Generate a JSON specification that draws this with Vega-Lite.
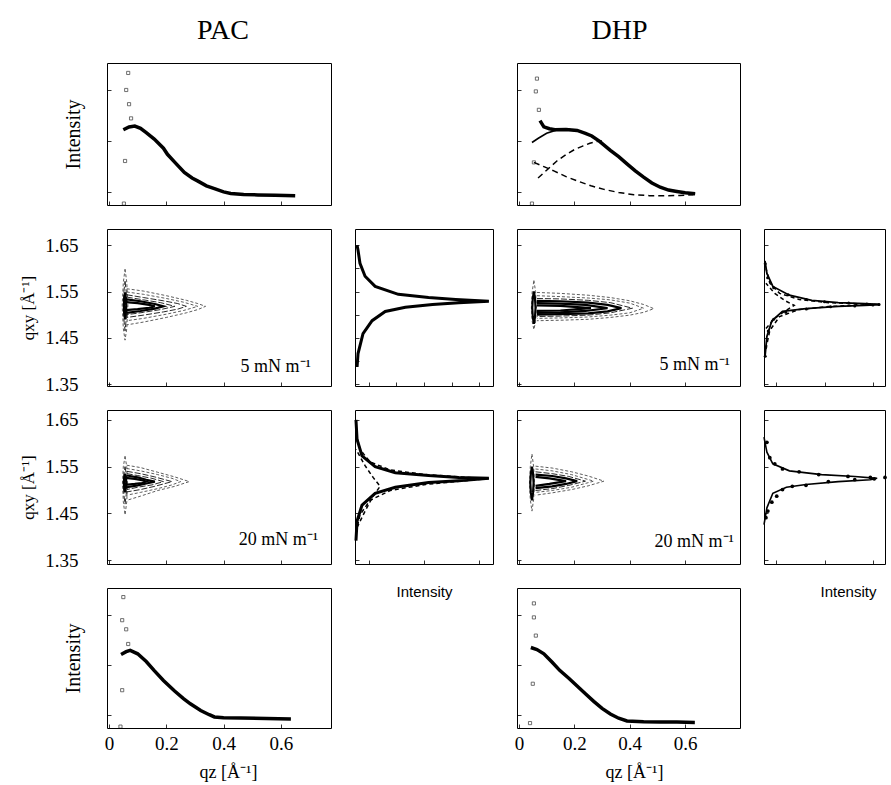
{
"$schema":"https://vega.github.io/schema/vega-lite/v6.json",
"padding":{"left":19,"top":16,"right":0,"bottom":0},
"background":"white",
"columns":4,
"spacing":{"row":24,"column":24},
"align":"each",
"bounds":"flush",
"config":{
 "view":{"stroke":"black","strokeWidth":1},
 "font":"Liberation Serif",
 "axis":{"domain":false,"grid":false,"ticks":true,"tickSize":4,"offset":-4,"tickColor":"black","tickWidth":0.8,"labelColor":"black","labelFont":"Liberation Serif","titleFont":"Liberation Serif","titleColor":"black","titleFontWeight":"normal","labelOverlap":false,"labelFlush":false},
 "title":{"font":"Liberation Serif","fontWeight":"normal","color":"black"}
},
"datasets":{
"pac_top":[{"q":0.05,"I":0.53},{"q":0.07,"I":0.55},{"q":0.09,"I":0.556},{"q":0.11,"I":0.54},{"q":0.13,"I":0.51},{"q":0.158,"I":0.464},{"q":0.19,"I":0.40},{"q":0.204,"I":0.357},{"q":0.23,"I":0.30},{"q":0.263,"I":0.229},{"q":0.29,"I":0.19},{"q":0.309,"I":0.17},{"q":0.34,"I":0.135},{"q":0.368,"I":0.115},{"q":0.40,"I":0.092},{"q":0.425,"I":0.081},{"q":0.47,"I":0.074},{"q":0.52,"I":0.071},{"q":0.58,"I":0.069},{"q":0.65,"I":0.066}],
"pac_top_sq":[{"q":0.067,"I":0.93},{"q":0.06,"I":0.81},{"q":0.07,"I":0.71},{"q":0.077,"I":0.61},{"q":0.056,"I":0.31},{"q":0.052,"I":0.01}],
"dhp_top":[
{"s":"data","q":0.076,"I":0.594},{"s":"data","q":0.09,"I":0.55},{"s":"data","q":0.11,"I":0.537},{"s":"data","q":0.13,"I":0.53},{"s":"data","q":0.17,"I":0.532},{"s":"data","q":0.21,"I":0.525},{"s":"data","q":0.24,"I":0.505},{"s":"data","q":0.263,"I":0.486},{"s":"data","q":0.29,"I":0.45},{"s":"data","q":0.33,"I":0.385},{"s":"data","q":0.36,"I":0.34},{"s":"data","q":0.39,"I":0.29},{"s":"data","q":0.42,"I":0.24},{"s":"data","q":0.45,"I":0.196},{"s":"data","q":0.48,"I":0.155},{"s":"data","q":0.51,"I":0.125},{"s":"data","q":0.54,"I":0.105},{"s":"data","q":0.57,"I":0.095},{"s":"data","q":0.60,"I":0.086},{"s":"data","q":0.636,"I":0.08},
{"s":"fit","q":0.047,"I":0.44},{"s":"fit","q":0.07,"I":0.47},{"s":"fit","q":0.1,"I":0.505},{"s":"fit","q":0.137,"I":0.529},{"s":"fit","q":0.17,"I":0.533},{"s":"fit","q":0.21,"I":0.527},{"s":"fit","q":0.24,"I":0.505},{"s":"fit","q":0.263,"I":0.486},{"s":"fit","q":0.29,"I":0.45},{"s":"fit","q":0.33,"I":0.385},{"s":"fit","q":0.36,"I":0.34},{"s":"fit","q":0.39,"I":0.29},{"s":"fit","q":0.42,"I":0.24},{"s":"fit","q":0.45,"I":0.196},{"s":"fit","q":0.48,"I":0.155},{"s":"fit","q":0.51,"I":0.125},{"s":"fit","q":0.54,"I":0.105},{"s":"fit","q":0.57,"I":0.095},{"s":"fit","q":0.60,"I":0.086},{"s":"fit","q":0.636,"I":0.08},
{"s":"d1","q":0.069,"I":0.19},{"s":"d1","q":0.1,"I":0.245},{"s":"d1","q":0.137,"I":0.31},{"s":"d1","q":0.17,"I":0.355},{"s":"d1","q":0.2,"I":0.39},{"s":"d1","q":0.23,"I":0.415},{"s":"d1","q":0.256,"I":0.435},{"s":"d1","q":0.28,"I":0.447},{"s":"d1","q":0.30,"I":0.45},
{"s":"d2","q":0.054,"I":0.30},{"s":"d2","q":0.09,"I":0.27},{"s":"d2","q":0.126,"I":0.24},{"s":"d2","q":0.17,"I":0.20},{"s":"d2","q":0.21,"I":0.17},{"s":"d2","q":0.26,"I":0.135},{"s":"d2","q":0.307,"I":0.11},{"s":"d2","q":0.36,"I":0.088},{"s":"d2","q":0.415,"I":0.072},{"s":"d2","q":0.47,"I":0.066},{"s":"d2","q":0.52,"I":0.065},{"s":"d2","q":0.58,"I":0.067},{"s":"d2","q":0.63,"I":0.072}],
"dhp_top_sq":[{"q":0.065,"I":0.89},{"q":0.061,"I":0.80},{"q":0.072,"I":0.67},{"q":0.054,"I":0.30},{"q":0.047,"I":0.01}],
"pac_bot":[{"q":0.042,"I":0.525},{"q":0.06,"I":0.545},{"q":0.074,"I":0.554},{"q":0.1,"I":0.53},{"q":0.13,"I":0.475},{"q":0.158,"I":0.41},{"q":0.19,"I":0.34},{"q":0.228,"I":0.266},{"q":0.26,"I":0.21},{"q":0.284,"I":0.173},{"q":0.32,"I":0.125},{"q":0.35,"I":0.095},{"q":0.368,"I":0.079},{"q":0.40,"I":0.074},{"q":0.46,"I":0.072},{"q":0.55,"I":0.068},{"q":0.635,"I":0.065}],
"pac_bot_sq":[{"q":0.05,"I":0.935},{"q":0.046,"I":0.77},{"q":0.06,"I":0.705},{"q":0.067,"I":0.60},{"q":0.046,"I":0.27},{"q":0.04,"I":0.01}],
"dhp_bot":[{"q":0.043,"I":0.575},{"q":0.065,"I":0.56},{"q":0.09,"I":0.53},{"q":0.12,"I":0.47},{"q":0.148,"I":0.41},{"q":0.18,"I":0.355},{"q":0.21,"I":0.30},{"q":0.24,"I":0.245},{"q":0.27,"I":0.19},{"q":0.30,"I":0.14},{"q":0.33,"I":0.10},{"q":0.36,"I":0.07},{"q":0.39,"I":0.05},{"q":0.45,"I":0.045},{"q":0.51,"I":0.043},{"q":0.57,"I":0.042},{"q":0.635,"I":0.04}],
"dhp_bot_sq":[{"q":0.054,"I":0.89},{"q":0.054,"I":0.79},{"q":0.061,"I":0.66},{"q":0.05,"I":0.316},{"q":0.04,"I":0.035}],
"c_pac5":[
{"c":"C1","l":"o","k":1,"q":0.062,"y":1.556},{"c":"C1","l":"o","k":2,"q":0.12,"y":1.551},{"c":"C1","l":"o","k":3,"q":0.2,"y":1.541},{"c":"C1","l":"o","k":4,"q":0.27,"y":1.531},{"c":"C1","l":"o","k":5,"q":0.31,"y":1.524},{"c":"C1","l":"o","k":6,"q":0.337,"y":1.518},{"c":"C1","l":"o","k":7,"q":0.31,"y":1.511},{"c":"C1","l":"o","k":8,"q":0.27,"y":1.504},{"c":"C1","l":"o","k":9,"q":0.2,"y":1.494},{"c":"C1","l":"o","k":10,"q":0.12,"y":1.484},{"c":"C1","l":"o","k":11,"q":0.062,"y":1.478},
{"c":"C2","l":"o","k":1,"q":0.062,"y":1.549},{"c":"C2","l":"o","k":2,"q":0.12,"y":1.544},{"c":"C2","l":"o","k":3,"q":0.2,"y":1.535},{"c":"C2","l":"o","k":4,"q":0.26,"y":1.527},{"c":"C2","l":"o","k":5,"q":0.31,"y":1.518},{"c":"C2","l":"o","k":6,"q":0.26,"y":1.509},{"c":"C2","l":"o","k":7,"q":0.2,"y":1.501},{"c":"C2","l":"o","k":8,"q":0.12,"y":1.492},{"c":"C2","l":"o","k":9,"q":0.062,"y":1.487},
{"c":"C3","l":"m","k":1,"q":0.062,"y":1.543},{"c":"C3","l":"m","k":2,"q":0.12,"y":1.537},{"c":"C3","l":"m","k":3,"q":0.19,"y":1.530},{"c":"C3","l":"m","k":4,"q":0.24,"y":1.524},{"c":"C3","l":"m","k":5,"q":0.27,"y":1.518},{"c":"C3","l":"m","k":6,"q":0.24,"y":1.512},{"c":"C3","l":"m","k":7,"q":0.19,"y":1.506},{"c":"C3","l":"m","k":8,"q":0.12,"y":1.499},{"c":"C3","l":"m","k":9,"q":0.062,"y":1.494},
{"c":"C4","l":"m","k":1,"q":0.062,"y":1.538},{"c":"C4","l":"m","k":2,"q":0.12,"y":1.532},{"c":"C4","l":"m","k":3,"q":0.18,"y":1.526},{"c":"C4","l":"m","k":4,"q":0.23,"y":1.518},{"c":"C4","l":"m","k":5,"q":0.18,"y":1.511},{"c":"C4","l":"m","k":6,"q":0.12,"y":1.505},{"c":"C4","l":"m","k":7,"q":0.062,"y":1.500},
{"c":"C5","l":"c","k":1,"q":0.062,"y":1.533},{"c":"C5","l":"c","k":2,"q":0.11,"y":1.529},{"c":"C5","l":"c","k":3,"q":0.16,"y":1.523},{"c":"C5","l":"c","k":4,"q":0.19,"y":1.518},{"c":"C5","l":"c","k":5,"q":0.16,"y":1.513},{"c":"C5","l":"c","k":6,"q":0.11,"y":1.508},{"c":"C5","l":"c","k":7,"q":0.062,"y":1.504},
{"c":"C6","l":"c","k":1,"q":0.058,"y":1.527},{"c":"C6","l":"c","k":2,"q":0.1,"y":1.525},{"c":"C6","l":"c","k":3,"q":0.14,"y":1.521},{"c":"C6","l":"c","k":4,"q":0.16,"y":1.518},{"c":"C6","l":"c","k":5,"q":0.14,"y":1.515},{"c":"C6","l":"c","k":6,"q":0.1,"y":1.512},{"c":"C6","l":"c","k":7,"q":0.058,"y":1.510},
{"c":"S1","l":"o","k":1,"q":0.056,"y":1.598},{"c":"S1","l":"o","k":2,"q":0.062,"y":1.57},{"c":"S1","l":"o","k":3,"q":0.066,"y":1.52},{"c":"S1","l":"o","k":4,"q":0.062,"y":1.47},{"c":"S1","l":"o","k":5,"q":0.056,"y":1.445},{"c":"S1","l":"o","k":6,"q":0.05,"y":1.47},{"c":"S1","l":"o","k":7,"q":0.046,"y":1.52},{"c":"S1","l":"o","k":8,"q":0.05,"y":1.57},{"c":"S1","l":"o","k":9,"q":0.056,"y":1.598},
{"c":"S2","l":"m","k":1,"q":0.056,"y":1.572},{"c":"S2","l":"m","k":2,"q":0.06,"y":1.55},{"c":"S2","l":"m","k":3,"q":0.062,"y":1.52},{"c":"S2","l":"m","k":4,"q":0.06,"y":1.49},{"c":"S2","l":"m","k":5,"q":0.056,"y":1.465},{"c":"S2","l":"m","k":6,"q":0.052,"y":1.49},{"c":"S2","l":"m","k":7,"q":0.05,"y":1.52},{"c":"S2","l":"m","k":8,"q":0.052,"y":1.55},{"c":"S2","l":"m","k":9,"q":0.056,"y":1.572},
{"c":"S3","l":"c","k":1,"q":0.056,"y":1.548},{"c":"S3","l":"c","k":2,"q":0.059,"y":1.535},{"c":"S3","l":"c","k":3,"q":0.06,"y":1.52},{"c":"S3","l":"c","k":4,"q":0.059,"y":1.505},{"c":"S3","l":"c","k":5,"q":0.056,"y":1.49},{"c":"S3","l":"c","k":6,"q":0.053,"y":1.505},{"c":"S3","l":"c","k":7,"q":0.052,"y":1.52},{"c":"S3","l":"c","k":8,"q":0.053,"y":1.535},{"c":"S3","l":"c","k":9,"q":0.056,"y":1.548}],
"c_pac20":[
{"c":"C1","l":"o","k":1,"q":0.062,"y":1.553},{"c":"C1","l":"o","k":2,"q":0.11,"y":1.548},{"c":"C1","l":"o","k":3,"q":0.17,"y":1.538},{"c":"C1","l":"o","k":4,"q":0.23,"y":1.528},{"c":"C1","l":"o","k":5,"q":0.28,"y":1.518},{"c":"C1","l":"o","k":6,"q":0.23,"y":1.508},{"c":"C1","l":"o","k":7,"q":0.17,"y":1.499},{"c":"C1","l":"o","k":8,"q":0.11,"y":1.487},{"c":"C1","l":"o","k":9,"q":0.062,"y":1.478},
{"c":"C2","l":"o","k":1,"q":0.062,"y":1.546},{"c":"C2","l":"o","k":2,"q":0.11,"y":1.541},{"c":"C2","l":"o","k":3,"q":0.17,"y":1.533},{"c":"C2","l":"o","k":4,"q":0.22,"y":1.525},{"c":"C2","l":"o","k":5,"q":0.25,"y":1.518},{"c":"C2","l":"o","k":6,"q":0.22,"y":1.511},{"c":"C2","l":"o","k":7,"q":0.17,"y":1.503},{"c":"C2","l":"o","k":8,"q":0.11,"y":1.495},{"c":"C2","l":"o","k":9,"q":0.062,"y":1.489},
{"c":"C3","l":"m","k":1,"q":0.062,"y":1.540},{"c":"C3","l":"m","k":2,"q":0.11,"y":1.535},{"c":"C3","l":"m","k":3,"q":0.16,"y":1.528},{"c":"C3","l":"m","k":4,"q":0.22,"y":1.518},{"c":"C3","l":"m","k":5,"q":0.16,"y":1.508},{"c":"C3","l":"m","k":6,"q":0.11,"y":1.501},{"c":"C3","l":"m","k":7,"q":0.062,"y":1.496},
{"c":"C4","l":"m","k":1,"q":0.062,"y":1.535},{"c":"C4","l":"m","k":2,"q":0.1,"y":1.531},{"c":"C4","l":"m","k":3,"q":0.15,"y":1.525},{"c":"C4","l":"m","k":4,"q":0.19,"y":1.518},{"c":"C4","l":"m","k":5,"q":0.15,"y":1.511},{"c":"C4","l":"m","k":6,"q":0.1,"y":1.506},{"c":"C4","l":"m","k":7,"q":0.062,"y":1.501},
{"c":"C5","l":"c","k":1,"q":0.062,"y":1.531},{"c":"C5","l":"c","k":2,"q":0.1,"y":1.527},{"c":"C5","l":"c","k":3,"q":0.13,"y":1.522},{"c":"C5","l":"c","k":4,"q":0.16,"y":1.518},{"c":"C5","l":"c","k":5,"q":0.13,"y":1.514},{"c":"C5","l":"c","k":6,"q":0.1,"y":1.510},{"c":"C5","l":"c","k":7,"q":0.062,"y":1.506},
{"c":"C6","l":"c","k":1,"q":0.058,"y":1.526},{"c":"C6","l":"c","k":2,"q":0.09,"y":1.524},{"c":"C6","l":"c","k":3,"q":0.115,"y":1.521},{"c":"C6","l":"c","k":4,"q":0.13,"y":1.518},{"c":"C6","l":"c","k":5,"q":0.115,"y":1.515},{"c":"C6","l":"c","k":6,"q":0.09,"y":1.513},{"c":"C6","l":"c","k":7,"q":0.058,"y":1.511},
{"c":"S1","l":"o","k":1,"q":0.056,"y":1.572},{"c":"S1","l":"o","k":2,"q":0.062,"y":1.55},{"c":"S1","l":"o","k":3,"q":0.065,"y":1.515},{"c":"S1","l":"o","k":4,"q":0.062,"y":1.475},{"c":"S1","l":"o","k":5,"q":0.056,"y":1.447},{"c":"S1","l":"o","k":6,"q":0.05,"y":1.475},{"c":"S1","l":"o","k":7,"q":0.047,"y":1.515},{"c":"S1","l":"o","k":8,"q":0.05,"y":1.55},{"c":"S1","l":"o","k":9,"q":0.056,"y":1.572},
{"c":"S2","l":"m","k":1,"q":0.056,"y":1.55},{"c":"S2","l":"m","k":2,"q":0.06,"y":1.535},{"c":"S2","l":"m","k":3,"q":0.062,"y":1.515},{"c":"S2","l":"m","k":4,"q":0.06,"y":1.49},{"c":"S2","l":"m","k":5,"q":0.056,"y":1.47},{"c":"S2","l":"m","k":6,"q":0.052,"y":1.49},{"c":"S2","l":"m","k":7,"q":0.05,"y":1.515},{"c":"S2","l":"m","k":8,"q":0.052,"y":1.535},{"c":"S2","l":"m","k":9,"q":0.056,"y":1.55},
{"c":"S3","l":"c","k":1,"q":0.056,"y":1.535},{"c":"S3","l":"c","k":2,"q":0.059,"y":1.527},{"c":"S3","l":"c","k":3,"q":0.06,"y":1.517},{"c":"S3","l":"c","k":4,"q":0.059,"y":1.505},{"c":"S3","l":"c","k":5,"q":0.056,"y":1.495},{"c":"S3","l":"c","k":6,"q":0.053,"y":1.505},{"c":"S3","l":"c","k":7,"q":0.052,"y":1.517},{"c":"S3","l":"c","k":8,"q":0.053,"y":1.527},{"c":"S3","l":"c","k":9,"q":0.056,"y":1.535}],
"c_dhp5":[
{"c":"C1","l":"o","k":1,"q":0.065,"y":1.548},{"c":"C1","l":"o","k":2,"q":0.15,"y":1.546},{"c":"C1","l":"o","k":3,"q":0.25,"y":1.542},{"c":"C1","l":"o","k":4,"q":0.33,"y":1.537},{"c":"C1","l":"o","k":5,"q":0.4,"y":1.530},{"c":"C1","l":"o","k":6,"q":0.45,"y":1.522},{"c":"C1","l":"o","k":7,"q":0.487,"y":1.513},{"c":"C1","l":"o","k":8,"q":0.45,"y":1.505},{"c":"C1","l":"o","k":9,"q":0.4,"y":1.499},{"c":"C1","l":"o","k":10,"q":0.33,"y":1.494},{"c":"C1","l":"o","k":11,"q":0.25,"y":1.490},{"c":"C1","l":"o","k":12,"q":0.15,"y":1.488},{"c":"C1","l":"o","k":13,"q":0.065,"y":1.487},
{"c":"C2","l":"o","k":1,"q":0.065,"y":1.541},{"c":"C2","l":"o","k":2,"q":0.15,"y":1.539},{"c":"C2","l":"o","k":3,"q":0.25,"y":1.536},{"c":"C2","l":"o","k":4,"q":0.33,"y":1.532},{"c":"C2","l":"o","k":5,"q":0.4,"y":1.525},{"c":"C2","l":"o","k":6,"q":0.45,"y":1.514},{"c":"C2","l":"o","k":7,"q":0.4,"y":1.504},{"c":"C2","l":"o","k":8,"q":0.33,"y":1.499},{"c":"C2","l":"o","k":9,"q":0.25,"y":1.495},{"c":"C2","l":"o","k":10,"q":0.15,"y":1.493},{"c":"C2","l":"o","k":11,"q":0.065,"y":1.492},
{"c":"C3","l":"m","k":1,"q":0.065,"y":1.535},{"c":"C3","l":"m","k":2,"q":0.15,"y":1.534},{"c":"C3","l":"m","k":3,"q":0.25,"y":1.531},{"c":"C3","l":"m","k":4,"q":0.33,"y":1.526},{"c":"C3","l":"m","k":5,"q":0.41,"y":1.514},{"c":"C3","l":"m","k":6,"q":0.33,"y":1.504},{"c":"C3","l":"m","k":7,"q":0.25,"y":1.499},{"c":"C3","l":"m","k":8,"q":0.15,"y":1.497},{"c":"C3","l":"m","k":9,"q":0.065,"y":1.496},
{"c":"C4","l":"c","k":1,"q":0.065,"y":1.530},{"c":"C4","l":"c","k":2,"q":0.15,"y":1.529},{"c":"C4","l":"c","k":3,"q":0.25,"y":1.526},{"c":"C4","l":"c","k":4,"q":0.32,"y":1.521},{"c":"C4","l":"c","k":5,"q":0.37,"y":1.514},{"c":"C4","l":"c","k":6,"q":0.32,"y":1.507},{"c":"C4","l":"c","k":7,"q":0.25,"y":1.503},{"c":"C4","l":"c","k":8,"q":0.15,"y":1.501},{"c":"C4","l":"c","k":9,"q":0.065,"y":1.500},
{"c":"C5","l":"c","k":1,"q":0.065,"y":1.525},{"c":"C5","l":"c","k":2,"q":0.15,"y":1.524},{"c":"C5","l":"c","k":3,"q":0.24,"y":1.521},{"c":"C5","l":"c","k":4,"q":0.32,"y":1.514},{"c":"C5","l":"c","k":5,"q":0.24,"y":1.508},{"c":"C5","l":"c","k":6,"q":0.15,"y":1.505},{"c":"C5","l":"c","k":7,"q":0.065,"y":1.504},
{"c":"C6","l":"c","k":1,"q":0.065,"y":1.520},{"c":"C6","l":"c","k":2,"q":0.15,"y":1.519},{"c":"C6","l":"c","k":3,"q":0.26,"y":1.514},{"c":"C6","l":"c","k":4,"q":0.15,"y":1.509},{"c":"C6","l":"c","k":5,"q":0.065,"y":1.508},
{"c":"S1","l":"o","k":1,"q":0.054,"y":1.574},{"c":"S1","l":"o","k":2,"q":0.06,"y":1.55},{"c":"S1","l":"o","k":3,"q":0.063,"y":1.515},{"c":"S1","l":"o","k":4,"q":0.06,"y":1.485},{"c":"S1","l":"o","k":5,"q":0.054,"y":1.468},{"c":"S1","l":"o","k":6,"q":0.048,"y":1.485},{"c":"S1","l":"o","k":7,"q":0.045,"y":1.515},{"c":"S1","l":"o","k":8,"q":0.048,"y":1.55},{"c":"S1","l":"o","k":9,"q":0.054,"y":1.574},
{"c":"S2","l":"c","k":1,"q":0.054,"y":1.55},{"c":"S2","l":"c","k":2,"q":0.058,"y":1.535},{"c":"S2","l":"c","k":3,"q":0.06,"y":1.515},{"c":"S2","l":"c","k":4,"q":0.058,"y":1.495},{"c":"S2","l":"c","k":5,"q":0.054,"y":1.48},{"c":"S2","l":"c","k":6,"q":0.05,"y":1.495},{"c":"S2","l":"c","k":7,"q":0.048,"y":1.515},{"c":"S2","l":"c","k":8,"q":0.05,"y":1.535},{"c":"S2","l":"c","k":9,"q":0.054,"y":1.55}],
"c_dhp20":[
{"c":"C1","l":"o","k":1,"q":0.06,"y":1.551},{"c":"C1","l":"o","k":2,"q":0.12,"y":1.547},{"c":"C1","l":"o","k":3,"q":0.19,"y":1.539},{"c":"C1","l":"o","k":4,"q":0.25,"y":1.530},{"c":"C1","l":"o","k":5,"q":0.307,"y":1.519},{"c":"C1","l":"o","k":6,"q":0.25,"y":1.509},{"c":"C1","l":"o","k":7,"q":0.19,"y":1.501},{"c":"C1","l":"o","k":8,"q":0.12,"y":1.494},{"c":"C1","l":"o","k":9,"q":0.06,"y":1.489},
{"c":"C2","l":"o","k":1,"q":0.06,"y":1.545},{"c":"C2","l":"o","k":2,"q":0.12,"y":1.541},{"c":"C2","l":"o","k":3,"q":0.19,"y":1.533},{"c":"C2","l":"o","k":4,"q":0.27,"y":1.519},{"c":"C2","l":"o","k":5,"q":0.19,"y":1.506},{"c":"C2","l":"o","k":6,"q":0.12,"y":1.499},{"c":"C2","l":"o","k":7,"q":0.06,"y":1.495},
{"c":"C3","l":"m","k":1,"q":0.06,"y":1.539},{"c":"C3","l":"m","k":2,"q":0.12,"y":1.535},{"c":"C3","l":"m","k":3,"q":0.18,"y":1.529},{"c":"C3","l":"m","k":4,"q":0.24,"y":1.519},{"c":"C3","l":"m","k":5,"q":0.18,"y":1.510},{"c":"C3","l":"m","k":6,"q":0.12,"y":1.503},{"c":"C3","l":"m","k":7,"q":0.06,"y":1.499},
{"c":"C4","l":"c","k":1,"q":0.06,"y":1.533},{"c":"C4","l":"c","k":2,"q":0.12,"y":1.530},{"c":"C4","l":"c","k":3,"q":0.17,"y":1.525},{"c":"C4","l":"c","k":4,"q":0.21,"y":1.519},{"c":"C4","l":"c","k":5,"q":0.17,"y":1.513},{"c":"C4","l":"c","k":6,"q":0.12,"y":1.508},{"c":"C4","l":"c","k":7,"q":0.06,"y":1.504},
{"c":"C5","l":"c","k":1,"q":0.06,"y":1.528},{"c":"C5","l":"c","k":2,"q":0.11,"y":1.525},{"c":"C5","l":"c","k":3,"q":0.17,"y":1.519},{"c":"C5","l":"c","k":4,"q":0.11,"y":1.513},{"c":"C5","l":"c","k":5,"q":0.06,"y":1.509},
{"c":"S1","l":"o","k":1,"q":0.047,"y":1.577},{"c":"S1","l":"o","k":2,"q":0.053,"y":1.55},{"c":"S1","l":"o","k":3,"q":0.056,"y":1.515},{"c":"S1","l":"o","k":4,"q":0.053,"y":1.48},{"c":"S1","l":"o","k":5,"q":0.047,"y":1.455},{"c":"S1","l":"o","k":6,"q":0.041,"y":1.48},{"c":"S1","l":"o","k":7,"q":0.038,"y":1.515},{"c":"S1","l":"o","k":8,"q":0.041,"y":1.55},{"c":"S1","l":"o","k":9,"q":0.047,"y":1.577},
{"c":"S2","l":"c","k":1,"q":0.047,"y":1.55},{"c":"S2","l":"c","k":2,"q":0.051,"y":1.535},{"c":"S2","l":"c","k":3,"q":0.053,"y":1.515},{"c":"S2","l":"c","k":4,"q":0.051,"y":1.495},{"c":"S2","l":"c","k":5,"q":0.047,"y":1.478},{"c":"S2","l":"c","k":6,"q":0.043,"y":1.495},{"c":"S2","l":"c","k":7,"q":0.041,"y":1.515},{"c":"S2","l":"c","k":8,"q":0.043,"y":1.535},{"c":"S2","l":"c","k":9,"q":0.047,"y":1.55}],
"s_pac5":[
{"I":0.015,"y":1.650},{"I":0.022,"y":1.639},{"I":0.036,"y":1.611},{"I":0.073,"y":1.583},{"I":0.146,"y":1.561},{"I":0.314,"y":1.544},{"I":0.533,"y":1.537},{"I":0.73,"y":1.533},{"I":0.97,"y":1.529},{"I":0.752,"y":1.526},{"I":0.562,"y":1.522},{"I":0.365,"y":1.516},{"I":0.219,"y":1.507},{"I":0.124,"y":1.487},{"I":0.058,"y":1.459},{"I":0.022,"y":1.416},{"I":0.015,"y":1.387}],
"s_pac20":[
{"s":"fit","I":0.007,"y":1.650},{"s":"fit","I":0.015,"y":1.608},{"s":"fit","I":0.051,"y":1.573},{"s":"fit","I":0.146,"y":1.550},{"s":"fit","I":0.292,"y":1.537},{"s":"fit","I":0.533,"y":1.531},{"s":"fit","I":0.752,"y":1.527},{"s":"fit","I":0.97,"y":1.525},{"s":"fit","I":0.752,"y":1.520},{"s":"fit","I":0.533,"y":1.516},{"s":"fit","I":0.292,"y":1.506},{"s":"fit","I":0.146,"y":1.493},{"s":"fit","I":0.051,"y":1.468},{"s":"fit","I":0.015,"y":1.434},{"s":"fit","I":0.007,"y":1.392},
{"s":"A","I":0.007,"y":1.623},{"s":"A","I":0.036,"y":1.587},{"s":"A","I":0.109,"y":1.560},{"s":"A","I":0.255,"y":1.543},{"s":"A","I":0.511,"y":1.533},{"s":"A","I":0.803,"y":1.527},{"s":"A","I":0.97,"y":1.5245},{"s":"A","I":0.803,"y":1.520},{"s":"A","I":0.511,"y":1.512},{"s":"A","I":0.255,"y":1.499},{"s":"A","I":0.109,"y":1.478},{"s":"A","I":0.036,"y":1.447},{"s":"A","I":0.007,"y":1.409},
{"s":"B","I":0.007,"y":1.587},{"s":"B","I":0.073,"y":1.552},{"s":"B","I":0.131,"y":1.527},{"s":"B","I":0.182,"y":1.508},{"s":"B","I":0.131,"y":1.487},{"s":"B","I":0.073,"y":1.455},{"s":"B","I":0.015,"y":1.420}],
"s_dhp5":[
{"s":"fit","I":0.008,"y":1.616},{"s":"fit","I":0.024,"y":1.589},{"s":"fit","I":0.073,"y":1.561},{"s":"fit","I":0.21,"y":1.542},{"s":"fit","I":0.395,"y":1.531},{"s":"fit","I":0.613,"y":1.526},{"s":"fit","I":0.831,"y":1.524},{"s":"fit","I":0.96,"y":1.522},{"s":"fit","I":0.831,"y":1.520},{"s":"fit","I":0.613,"y":1.518},{"s":"fit","I":0.347,"y":1.513},{"s":"fit","I":0.153,"y":1.507},{"s":"fit","I":0.065,"y":1.487},{"s":"fit","I":0.024,"y":1.453},{"s":"fit","I":0.008,"y":1.409},
{"s":"A","I":0.016,"y":1.600},{"s":"A","I":0.048,"y":1.568},{"s":"A","I":0.129,"y":1.546},{"s":"A","I":0.29,"y":1.533},{"s":"A","I":0.532,"y":1.526},{"s":"A","I":0.774,"y":1.5235},{"s":"A","I":0.96,"y":1.5221},{"s":"A","I":0.774,"y":1.5205},{"s":"A","I":0.532,"y":1.5175},{"s":"A","I":0.29,"y":1.511},{"s":"A","I":0.129,"y":1.496},{"s":"A","I":0.048,"y":1.466},{"s":"A","I":0.016,"y":1.426},
{"s":"B","I":0.016,"y":1.568},{"s":"B","I":0.089,"y":1.546},{"s":"B","I":0.169,"y":1.531},{"s":"B","I":0.25,"y":1.520},{"s":"B","I":0.169,"y":1.507},{"s":"B","I":0.089,"y":1.492},{"s":"B","I":0.016,"y":1.470}],
"p_dhp5":[{"I":0.01,"y":1.61},{"I":0.03,"y":1.58},{"I":0.08,"y":1.558},{"I":0.2,"y":1.543},{"I":0.35,"y":1.533},{"I":0.5,"y":1.528},{"I":0.7,"y":1.525},{"I":0.85,"y":1.523},{"I":0.95,"y":1.522},{"I":0.9,"y":1.521},{"I":0.75,"y":1.519},{"I":0.55,"y":1.517},{"I":0.35,"y":1.512},{"I":0.18,"y":1.505},{"I":0.08,"y":1.49},{"I":0.035,"y":1.465},{"I":0.015,"y":1.43},{"I":0.01,"y":1.41}],
"s_dhp20":[
{"I":0.0,"y":1.613},{"I":0.024,"y":1.581},{"I":0.073,"y":1.556},{"I":0.21,"y":1.541},{"I":0.476,"y":1.533},{"I":0.75,"y":1.529},{"I":0.935,"y":1.525},{"I":0.879,"y":1.522},{"I":0.613,"y":1.518},{"I":0.347,"y":1.512},{"I":0.185,"y":1.506},{"I":0.073,"y":1.493},{"I":0.024,"y":1.462},{"I":0.0,"y":1.426}],
"p_dhp20":[{"I":0.024,"y":1.602},{"I":0.048,"y":1.569},{"I":0.089,"y":1.556},{"I":0.153,"y":1.545},{"I":0.29,"y":1.539},{"I":0.452,"y":1.533},{"I":0.694,"y":1.529},{"I":0.879,"y":1.527},{"I":1.0,"y":1.527},{"I":0.016,"y":1.441},{"I":0.032,"y":1.455},{"I":0.065,"y":1.474},{"I":0.105,"y":1.487},{"I":0.153,"y":1.501},{"I":0.234,"y":1.508},{"I":0.347,"y":1.51},{"I":0.532,"y":1.518},{"I":0.75,"y":1.522},{"I":0.911,"y":1.524}]
},
"concat":[
{"width":224,"height":142,
 "title":{"text":"PAC","fontSize":28,"offset":18,"dx":4},
 "layer":[
  {"data":{"name":"pac_top"},"mark":{"type":"line","color":"black","strokeWidth":3.5},
   "encoding":{"x":{"field":"q","type":"quantitative","scale":{"domain":[-0.007,0.775],"nice":false,"zero":false},"axis":{"values":[0,0.1,0.2,0.3,0.4,0.5,0.6,0.7],"labels":false,"title":null}},
     "y":{"field":"I","type":"quantitative","scale":{"domain":[0,1],"nice":false},"axis":{"values":[0.09,0.27,0.45,0.63,0.81],"labels":false,"title":"Intensity","titleFontSize":20,"titlePadding":23}}}},
  {"data":{"name":"pac_top_sq"},"mark":{"type":"square","filled":false,"color":"black","size":10,"strokeWidth":0.8},
   "encoding":{"x":{"field":"q","type":"quantitative"},"y":{"field":"I","type":"quantitative"}}}
 ]},
{"width":1,"height":1,"view":{"stroke":null},"data":{"values":[]},"mark":"point"},
{"width":223,"height":142,
 "title":{"text":"DHP","fontSize":28,"offset":18,"dx":-9},
 "layer":[
  {"data":{"name":"dhp_top"},"transform":[{"filter":"datum.s == 'data'"}],"mark":{"type":"line","color":"black","strokeWidth":3.5},
   "encoding":{"x":{"field":"q","type":"quantitative","scale":{"domain":[-0.007,0.798],"nice":false,"zero":false},"axis":{"values":[0,0.1,0.2,0.3,0.4,0.5,0.6,0.7],"labels":false,"title":null}},
     "y":{"field":"I","type":"quantitative","scale":{"domain":[0,1],"nice":false},"axis":{"values":[0.09,0.27,0.45,0.63,0.81],"labels":false,"title":null}}}},
  {"data":{"name":"dhp_top"},"transform":[{"filter":"datum.s == 'fit'"}],"mark":{"type":"line","color":"black","strokeWidth":1.6},
   "encoding":{"x":{"field":"q","type":"quantitative"},"y":{"field":"I","type":"quantitative"}}},
  {"data":{"name":"dhp_top"},"transform":[{"filter":"datum.s == 'd1' || datum.s == 'd2'"}],"mark":{"type":"line","color":"black","strokeWidth":1.5,"strokeDash":[6,4]},
   "encoding":{"x":{"field":"q","type":"quantitative"},"y":{"field":"I","type":"quantitative"},"detail":{"field":"s"}}},
  {"data":{"name":"dhp_top_sq"},"mark":{"type":"square","filled":false,"color":"black","size":10,"strokeWidth":0.8},
   "encoding":{"x":{"field":"q","type":"quantitative"},"y":{"field":"I","type":"quantitative"}}}
 ]},
{"width":1,"height":1,"view":{"stroke":null},"data":{"values":[]},"mark":"point"},

{"width":224,"height":157,
 "layer":[
  {"data":{"name":"c_pac5"},"transform":[{"filter":"datum.l == 'o'"}],"mark":{"type":"line","color":"#333333","strokeWidth":0.8,"strokeDash":[3,2]},
   "encoding":{"x":{"field":"q","type":"quantitative","scale":{"domain":[-0.007,0.775],"nice":false,"zero":false},"axis":{"values":[0,0.1,0.2,0.3,0.4,0.5,0.6,0.7],"labels":false,"title":null}},
     "y":{"field":"y","type":"quantitative","scale":{"domain":[1.346,1.685],"nice":false,"zero":false},"axis":{"values":[1.35,1.4,1.45,1.5,1.55,1.6,1.65],"format":".2f","labelExpr":"indexof(['1.35','1.45','1.55','1.65'], datum.label) >= 0 ? datum.label : ''","labelFontSize":19,"labelPadding":29,"title":"qxy [Å⁻¹]","titleFontSize":17,"titlePadding":7}},
     "detail":{"field":"c"},"order":{"field":"k"}}},
  {"data":{"name":"c_pac5"},"transform":[{"filter":"datum.l == 'm'"}],"mark":{"type":"line","color":"#111111","strokeWidth":0.9,"strokeDash":[6,2]},
   "encoding":{"x":{"field":"q","type":"quantitative"},"y":{"field":"y","type":"quantitative"},"detail":{"field":"c"},"order":{"field":"k"}}},
  {"data":{"name":"c_pac5"},"transform":[{"filter":"datum.l == 'c'"}],"mark":{"type":"line","color":"black","strokeWidth":2.2},
   "encoding":{"x":{"field":"q","type":"quantitative"},"y":{"field":"y","type":"quantitative"},"detail":{"field":"c"},"order":{"field":"k"}}},
  {"data":{"values":[{"t":"5 mN m⁻¹"}]},"mark":{"type":"text","align":"right","baseline":"alphabetic","fontSize":18,"font":"Liberation Serif","color":"black"},
   "encoding":{"x":{"datum":0.705},"y":{"datum":1.376},"text":{"field":"t"}}}
 ]},
{"width":138,"height":157,"data":{"name":"s_pac5"},"mark":{"type":"line","color":"black","strokeWidth":3},
 "encoding":{"x":{"field":"I","type":"quantitative","scale":{"domain":[0,1],"nice":false},"axis":{"values":[0.1,0.3,0.5,0.7,0.9],"labels":false,"title":null}},
   "y":{"field":"y","type":"quantitative","scale":{"domain":[1.346,1.685],"nice":false,"zero":false},"axis":{"values":[1.35,1.4,1.45,1.5,1.55,1.6,1.65],"labels":false,"title":null}},
   "order":{"field":"y"}}},
{"width":223,"height":157,
 "layer":[
  {"data":{"name":"c_dhp5"},"transform":[{"filter":"datum.l == 'o'"}],"mark":{"type":"line","color":"#333333","strokeWidth":0.8,"strokeDash":[3,2]},
   "encoding":{"x":{"field":"q","type":"quantitative","scale":{"domain":[-0.007,0.798],"nice":false,"zero":false},"axis":{"values":[0,0.1,0.2,0.3,0.4,0.5,0.6,0.7],"labels":false,"title":null}},
     "y":{"field":"y","type":"quantitative","scale":{"domain":[1.346,1.685],"nice":false,"zero":false},"axis":{"values":[1.35,1.4,1.45,1.5,1.55,1.6,1.65],"labels":false,"title":null}},
     "detail":{"field":"c"},"order":{"field":"k"}}},
  {"data":{"name":"c_dhp5"},"transform":[{"filter":"datum.l == 'm'"}],"mark":{"type":"line","color":"#111111","strokeWidth":0.9,"strokeDash":[6,2]},
   "encoding":{"x":{"field":"q","type":"quantitative"},"y":{"field":"y","type":"quantitative"},"detail":{"field":"c"},"order":{"field":"k"}}},
  {"data":{"name":"c_dhp5"},"transform":[{"filter":"datum.l == 'c'"}],"mark":{"type":"line","color":"black","strokeWidth":2.2},
   "encoding":{"x":{"field":"q","type":"quantitative"},"y":{"field":"y","type":"quantitative"},"detail":{"field":"c"},"order":{"field":"k"}}},
  {"data":{"values":[{"t":"5 mN m⁻¹"}]},"mark":{"type":"text","align":"right","baseline":"alphabetic","fontSize":18,"font":"Liberation Serif","color":"black"},
   "encoding":{"x":{"datum":0.762},"y":{"datum":1.381},"text":{"field":"t"}}}
 ]},
{"width":121,"height":157,
 "layer":[
  {"data":{"name":"s_dhp5"},"transform":[{"filter":"datum.s == 'fit'"}],"mark":{"type":"line","color":"black","strokeWidth":1.8},
   "encoding":{"x":{"field":"I","type":"quantitative","scale":{"domain":[0,1],"nice":false},"axis":{"values":[0.1,0.3,0.5,0.7,0.9],"labels":false,"title":null}},
     "y":{"field":"y","type":"quantitative","scale":{"domain":[1.346,1.685],"nice":false,"zero":false},"axis":{"values":[1.35,1.4,1.45,1.5,1.55,1.6,1.65],"labels":false,"title":null}},
     "order":{"field":"y"}}},
  {"data":{"name":"s_dhp5"},"transform":[{"filter":"datum.s != 'fit'"}],"mark":{"type":"line","color":"black","strokeWidth":1.5,"strokeDash":[4,3]},
   "encoding":{"x":{"field":"I","type":"quantitative"},"y":{"field":"y","type":"quantitative"},"order":{"field":"y"},"detail":{"field":"s"}}},
  {"data":{"name":"p_dhp5"},"mark":{"type":"circle","color":"black","size":9,"opacity":1},
   "encoding":{"x":{"field":"I","type":"quantitative"},"y":{"field":"y","type":"quantitative"}}}
 ]},

{"width":224,"height":154,
 "layer":[
  {"data":{"name":"c_pac20"},"transform":[{"filter":"datum.l == 'o'"}],"mark":{"type":"line","color":"#333333","strokeWidth":0.8,"strokeDash":[3,2]},
   "encoding":{"x":{"field":"q","type":"quantitative","scale":{"domain":[-0.007,0.775],"nice":false,"zero":false},"axis":{"values":[0,0.1,0.2,0.3,0.4,0.5,0.6,0.7],"labels":false,"title":null}},
     "y":{"field":"y","type":"quantitative","scale":{"domain":[1.342,1.671],"nice":false,"zero":false},"axis":{"values":[1.35,1.4,1.45,1.5,1.55,1.6,1.65],"format":".2f","labelExpr":"indexof(['1.35','1.45','1.55','1.65'], datum.label) >= 0 ? datum.label : ''","labelFontSize":19,"labelPadding":29,"title":"qxy [Å⁻¹]","titleFontSize":17,"titlePadding":7}},
     "detail":{"field":"c"},"order":{"field":"k"}}},
  {"data":{"name":"c_pac20"},"transform":[{"filter":"datum.l == 'm'"}],"mark":{"type":"line","color":"#111111","strokeWidth":0.9,"strokeDash":[6,2]},
   "encoding":{"x":{"field":"q","type":"quantitative"},"y":{"field":"y","type":"quantitative"},"detail":{"field":"c"},"order":{"field":"k"}}},
  {"data":{"name":"c_pac20"},"transform":[{"filter":"datum.l == 'c'"}],"mark":{"type":"line","color":"black","strokeWidth":2.2},
   "encoding":{"x":{"field":"q","type":"quantitative"},"y":{"field":"y","type":"quantitative"},"detail":{"field":"c"},"order":{"field":"k"}}},
  {"data":{"values":[{"t":"20 mN m⁻¹"}]},"mark":{"type":"text","align":"right","baseline":"alphabetic","fontSize":18,"font":"Liberation Serif","color":"black"},
   "encoding":{"x":{"datum":0.73},"y":{"datum":1.382},"text":{"field":"t"}}}
 ]},
{"width":138,"height":154,
 "layer":[
  {"data":{"name":"s_pac20"},"transform":[{"filter":"datum.s == 'fit'"}],"mark":{"type":"line","color":"black","strokeWidth":3},
   "encoding":{"x":{"field":"I","type":"quantitative","scale":{"domain":[0,1],"nice":false},"axis":{"values":[0.1,0.3,0.5,0.7,0.9],"labels":false,"title":"Intensity","titleFont":"Liberation Sans","titleFontSize":15,"titlePadding":20}},
     "y":{"field":"y","type":"quantitative","scale":{"domain":[1.342,1.671],"nice":false,"zero":false},"axis":{"values":[1.35,1.4,1.45,1.5,1.55,1.6,1.65],"labels":false,"title":null}},
     "order":{"field":"y"}}},
  {"data":{"name":"s_pac20"},"transform":[{"filter":"datum.s != 'fit'"}],"mark":{"type":"line","color":"black","strokeWidth":1.5,"strokeDash":[4,3]},
   "encoding":{"x":{"field":"I","type":"quantitative"},"y":{"field":"y","type":"quantitative"},"order":{"field":"y"},"detail":{"field":"s"}}}
 ]},
{"width":223,"height":154,
 "layer":[
  {"data":{"name":"c_dhp20"},"transform":[{"filter":"datum.l == 'o'"}],"mark":{"type":"line","color":"#333333","strokeWidth":0.8,"strokeDash":[3,2]},
   "encoding":{"x":{"field":"q","type":"quantitative","scale":{"domain":[-0.007,0.798],"nice":false,"zero":false},"axis":{"values":[0,0.1,0.2,0.3,0.4,0.5,0.6,0.7],"labels":false,"title":null}},
     "y":{"field":"y","type":"quantitative","scale":{"domain":[1.342,1.671],"nice":false,"zero":false},"axis":{"values":[1.35,1.4,1.45,1.5,1.55,1.6,1.65],"labels":false,"title":null}},
     "detail":{"field":"c"},"order":{"field":"k"}}},
  {"data":{"name":"c_dhp20"},"transform":[{"filter":"datum.l == 'm'"}],"mark":{"type":"line","color":"#111111","strokeWidth":0.9,"strokeDash":[6,2]},
   "encoding":{"x":{"field":"q","type":"quantitative"},"y":{"field":"y","type":"quantitative"},"detail":{"field":"c"},"order":{"field":"k"}}},
  {"data":{"name":"c_dhp20"},"transform":[{"filter":"datum.l == 'c'"}],"mark":{"type":"line","color":"black","strokeWidth":2.2},
   "encoding":{"x":{"field":"q","type":"quantitative"},"y":{"field":"y","type":"quantitative"},"detail":{"field":"c"},"order":{"field":"k"}}},
  {"data":{"values":[{"t":"20 mN m⁻¹"}]},"mark":{"type":"text","align":"right","baseline":"alphabetic","fontSize":18,"font":"Liberation Serif","color":"black"},
   "encoding":{"x":{"datum":0.776},"y":{"datum":1.378},"text":{"field":"t"}}}
 ]},
{"width":121,"height":154,
 "layer":[
  {"data":{"name":"s_dhp20"},"mark":{"type":"line","color":"black","strokeWidth":1.6},
   "encoding":{"x":{"field":"I","type":"quantitative","scale":{"domain":[0,1],"nice":false},"axis":{"values":[0.1,0.3,0.5,0.7,0.9],"labels":false,"title":"Intensity","titleFont":"Liberation Sans","titleFontSize":15,"titlePadding":20,"titleX":84}},
     "y":{"field":"y","type":"quantitative","scale":{"domain":[1.342,1.671],"nice":false,"zero":false},"axis":{"values":[1.35,1.4,1.45,1.5,1.55,1.6,1.65],"labels":false,"title":null}},
     "order":{"field":"y"}}},
  {"data":{"name":"p_dhp20"},"mark":{"type":"circle","color":"black","size":14,"opacity":1},
   "encoding":{"x":{"field":"I","type":"quantitative"},"y":{"field":"y","type":"quantitative"}}}
 ]},

{"width":224,"height":140,
 "layer":[
  {"data":{"name":"pac_bot"},"mark":{"type":"line","color":"black","strokeWidth":3.5},
   "encoding":{"x":{"field":"q","type":"quantitative","scale":{"domain":[-0.007,0.775],"nice":false,"zero":false},"axis":{"values":[0,0.1,0.2,0.3,0.4,0.5,0.6,0.7],"labelExpr":"round(datum.value*10) % 2 == 0 ? (datum.value == 0 ? '0' : format(datum.value, '.1f')) : ''","labelFontSize":19,"labelPadding":6,"title":"qz [Å⁻¹]","titleFontSize":18,"titlePadding":10,"titleX":121}},
     "y":{"field":"I","type":"quantitative","scale":{"domain":[0,1],"nice":false},"axis":{"values":[0.09,0.27,0.45,0.63,0.81],"labels":false,"title":"Intensity","titleFontSize":20,"titlePadding":23}}}},
  {"data":{"name":"pac_bot_sq"},"mark":{"type":"square","filled":false,"color":"black","size":10,"strokeWidth":0.8},
   "encoding":{"x":{"field":"q","type":"quantitative"},"y":{"field":"I","type":"quantitative"}}}
 ]},
{"width":1,"height":1,"view":{"stroke":null},"data":{"values":[]},"mark":"point"},
{"width":223,"height":140,
 "layer":[
  {"data":{"name":"dhp_bot"},"mark":{"type":"line","color":"black","strokeWidth":3.5},
   "encoding":{"x":{"field":"q","type":"quantitative","scale":{"domain":[-0.007,0.798],"nice":false,"zero":false},"axis":{"values":[0,0.1,0.2,0.3,0.4,0.5,0.6,0.7],"labelExpr":"round(datum.value*10) % 2 == 0 ? (datum.value == 0 ? '0' : format(datum.value, '.1f')) : ''","labelFontSize":19,"labelPadding":6,"title":"qz [Å⁻¹]","titleFontSize":18,"titlePadding":10,"titleX":117}},
     "y":{"field":"I","type":"quantitative","scale":{"domain":[0,1],"nice":false},"axis":{"values":[0.09,0.27,0.45,0.63,0.81],"labels":false,"title":null}}}},
  {"data":{"name":"dhp_bot_sq"},"mark":{"type":"square","filled":false,"color":"black","size":10,"strokeWidth":0.8},
   "encoding":{"x":{"field":"q","type":"quantitative"},"y":{"field":"I","type":"quantitative"}}}
 ]},
{"width":1,"height":1,"view":{"stroke":null},"data":{"values":[]},"mark":"point"}
]
}
